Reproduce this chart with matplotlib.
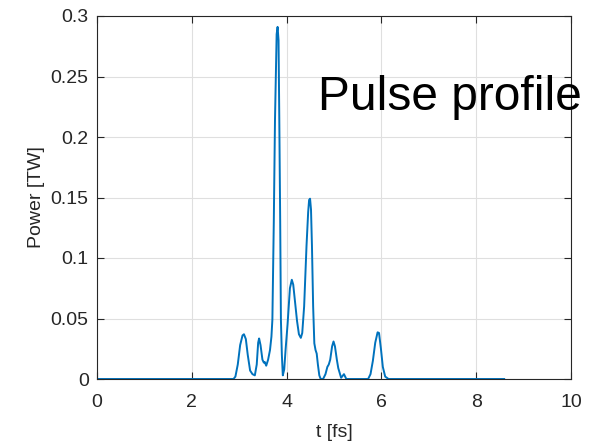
import matplotlib
matplotlib.use("Agg")
import matplotlib.pyplot as plt

plt.rcParams['font.family'] = ['Liberation Sans', 'DejaVu Sans']

# Pulse power profile
t_fs = [0.0, 2.88, 2.92, 2.97, 3.02, 3.07, 3.10, 3.14, 3.18, 3.23, 3.28, 3.33,
        3.37, 3.40, 3.42, 3.45, 3.49, 3.52, 3.54, 3.57, 3.61, 3.65, 3.68, 3.70,
        3.73, 3.755, 3.79, 3.81, 3.83, 3.846, 3.865, 3.88, 3.90, 3.92, 3.95,
        3.98, 4.02, 4.07, 4.11, 4.14, 4.18, 4.22, 4.26, 4.30, 4.33, 4.37, 4.42,
        4.455, 4.475, 4.495, 4.515, 4.535, 4.56, 4.585, 4.61, 4.635, 4.66, 4.69,
        4.72, 4.77, 4.82, 4.86, 4.89, 4.92, 4.96, 4.99, 5.02, 5.06, 5.09, 5.15,
        5.21, 5.26, 5.72, 5.77, 5.82, 5.87, 5.92, 5.95, 5.99, 6.03, 6.08, 6.15,
        8.59]
power_tw = [0.0, 0.0, 0.002, 0.012, 0.028, 0.036, 0.037, 0.033, 0.020, 0.007, 0.004, 0.003,
            0.012, 0.030, 0.0335, 0.028, 0.016, 0.0135, 0.014, 0.011, 0.016, 0.024, 0.035, 0.049,
            0.13, 0.214, 0.285, 0.291, 0.28, 0.214, 0.13, 0.049, 0.02, 0.003, 0.008,
            0.025, 0.045, 0.075, 0.082, 0.078, 0.063, 0.048, 0.037, 0.034, 0.038, 0.06, 0.11,
            0.138, 0.148, 0.149, 0.14, 0.11, 0.06, 0.0295, 0.024, 0.021, 0.012, 0.003,
            0.0, 0.0, 0.004, 0.010, 0.012, 0.016, 0.027, 0.031, 0.027, 0.016, 0.009, 0.001,
            0.004, 0.0, 0.0, 0.004, 0.015, 0.030, 0.0386, 0.038, 0.025, 0.010, 0.002, 0.0,
            0.0]

x_ticks = [0, 2, 4, 6, 8, 10]
y_ticks = [0, 0.05, 0.1, 0.15, 0.2, 0.25, 0.3]
y_ticklabels = ['0', '0.05', '0.1', '0.15', '0.2', '0.25', '0.3']

fig = plt.figure(figsize=(5.91, 4.42), dpi=100)
ax = fig.add_axes([97 / 591, 1 - 379 / 442, (571 - 97) / 591, (379 - 16) / 442])

ax.plot(t_fs, power_tw, color='#0072BD', lw=1.4)

ax.set_xlim(0, 10)
ax.set_ylim(0, 0.3)
ax.set_xticks(x_ticks)
ax.set_yticks(y_ticks)
ax.set_yticklabels(y_ticklabels)

dark = '#262626'
for s in ax.spines.values():
    s.set_color(dark)
    s.set_linewidth(0.8)
ax.tick_params(direction='in', length=5, width=0.8, colors=dark, labelsize=14,
               top=True, right=True, pad=6)
ax.tick_params(axis='x', pad=11)
ax.grid(True, color='#dfdfdf', lw=0.8)
ax.set_axisbelow(True)

ax.set_xlabel('t [fs]', fontsize=14, color=dark, labelpad=9)
ax.set_ylabel('Power [TW]', fontsize=14, color=dark, labelpad=4)

ax.text(4.66, 0.222, 'Pulse profile', fontsize=34.5, color='black',
        ha='left', va='baseline', clip_on=False)

fig.savefig('out.png', dpi=100)
